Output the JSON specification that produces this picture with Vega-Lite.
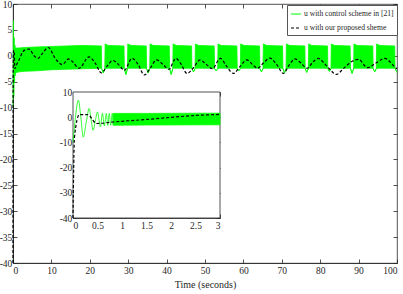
{
  "$schema": "https://vega.github.io/schema/vega-lite/v6.json",
  "width": 384,
  "height": 259,
  "autosize": {"type": "none"},
  "padding": {"left": 13, "top": 4, "right": 6, "bottom": 31},
  "config": {
    "view": {"stroke": "#262626", "strokeWidth": 0.8},
    "font": "Liberation Serif",
    "axis": {
      "labelFont": "Liberation Serif", "labelFontSize": 9.5, "labelColor": "#262626",
      "domainColor": "#262626", "tickColor": "#262626", "tickSize": -4, "grid": false,
      "titleFont": "Liberation Serif", "titleFontWeight": "normal", "titleFontSize": 10,
      "titleColor": "#262626", "domainWidth": 0.8, "tickWidth": 0.8
    },
    "axisX": {"labelPadding": 6},
    "axisY": {"labelPadding": 5.2}
  },
  "datasets": {
    "band": [
      {"t": 0.82, "hi": 1.5, "lo": -3.2}, {"t": 1.5, "hi": 1.5, "lo": -3.1}, {"t": 3, "hi": 1.6, "lo": -3.0},
      {"t": 6, "hi": 1.7, "lo": -2.9}, {"t": 10, "hi": 1.8, "lo": -2.7}, {"t": 14, "hi": 1.9, "lo": -2.6},
      {"t": 18, "hi": 2.0, "lo": -2.5},
      {"t": 23.0, "hi": 1.9, "lo": -2.4}, {"t": 23.1, "hi": -2.5, "lo": -2.5}, {"t": 23.5, "hi": -3.3, "lo": -3.3}, {"t": 23.9, "hi": -2.5, "lo": -2.5}, {"t": 24.0, "hi": 2.3, "lo": -2.4}, {"t": 24.8, "hi": 2.0, "lo": -2.4},
      {"t": 28.9, "hi": 1.9, "lo": -2.4}, {"t": 29.0, "hi": -2.5, "lo": -2.5}, {"t": 29.4, "hi": -3.6, "lo": -3.6}, {"t": 29.8, "hi": -2.5, "lo": -2.5}, {"t": 29.9, "hi": 2.3, "lo": -2.4}, {"t": 30.7, "hi": 2.0, "lo": -2.4},
      {"t": 34.7, "hi": 1.9, "lo": -2.4}, {"t": 34.8, "hi": -2.5, "lo": -2.5}, {"t": 35.2, "hi": -3.3, "lo": -3.3}, {"t": 35.6, "hi": -2.5, "lo": -2.5}, {"t": 35.7, "hi": 2.3, "lo": -2.4}, {"t": 36.5, "hi": 2.0, "lo": -2.4},
      {"t": 40.7, "hi": 1.9, "lo": -2.4}, {"t": 40.8, "hi": -2.5, "lo": -2.5}, {"t": 41.2, "hi": -3.6, "lo": -3.6}, {"t": 41.6, "hi": -2.5, "lo": -2.5}, {"t": 41.7, "hi": 2.3, "lo": -2.4}, {"t": 42.5, "hi": 2.0, "lo": -2.4},
      {"t": 46.5, "hi": 1.9, "lo": -2.4}, {"t": 46.6, "hi": -2.5, "lo": -2.5}, {"t": 47.0, "hi": -3.1, "lo": -3.1}, {"t": 47.4, "hi": -2.5, "lo": -2.5}, {"t": 47.5, "hi": 2.3, "lo": -2.4}, {"t": 48.3, "hi": 2.0, "lo": -2.4},
      {"t": 52.4, "hi": 1.9, "lo": -2.4}, {"t": 52.5, "hi": -2.5, "lo": -2.5}, {"t": 52.9, "hi": -2.9, "lo": -2.9}, {"t": 53.3, "hi": -2.5, "lo": -2.5}, {"t": 53.4, "hi": 2.3, "lo": -2.4}, {"t": 54.2, "hi": 2.0, "lo": -2.4},
      {"t": 58.3, "hi": 1.9, "lo": -2.4}, {"t": 58.4, "hi": -2.5, "lo": -2.5}, {"t": 58.8, "hi": -2.9, "lo": -2.9}, {"t": 59.2, "hi": -2.5, "lo": -2.5}, {"t": 59.3, "hi": 2.3, "lo": -2.4}, {"t": 60.1, "hi": 2.0, "lo": -2.4},
      {"t": 64.2, "hi": 1.9, "lo": -2.4}, {"t": 64.3, "hi": -2.5, "lo": -2.5}, {"t": 64.7, "hi": -3.1, "lo": -3.1}, {"t": 65.1, "hi": -2.5, "lo": -2.5}, {"t": 65.2, "hi": 2.3, "lo": -2.4}, {"t": 66.0, "hi": 2.0, "lo": -2.4},
      {"t": 70.2, "hi": 1.9, "lo": -2.4}, {"t": 70.3, "hi": -2.5, "lo": -2.5}, {"t": 70.7, "hi": -3.3, "lo": -3.3}, {"t": 71.1, "hi": -2.5, "lo": -2.5}, {"t": 71.2, "hi": 2.3, "lo": -2.4}, {"t": 72.0, "hi": 2.0, "lo": -2.4},
      {"t": 76.0, "hi": 1.9, "lo": -2.4}, {"t": 76.1, "hi": -2.5, "lo": -2.5}, {"t": 76.5, "hi": -3.2, "lo": -3.2}, {"t": 76.9, "hi": -2.5, "lo": -2.5}, {"t": 77.0, "hi": 2.3, "lo": -2.4}, {"t": 77.8, "hi": 2.0, "lo": -2.4},
      {"t": 81.9, "hi": 1.9, "lo": -2.4}, {"t": 82.0, "hi": -2.5, "lo": -2.5}, {"t": 82.4, "hi": -3.0, "lo": -3.0}, {"t": 82.8, "hi": -2.5, "lo": -2.5}, {"t": 82.9, "hi": 2.3, "lo": -2.4}, {"t": 83.7, "hi": 2.0, "lo": -2.4},
      {"t": 87.8, "hi": 1.9, "lo": -2.4}, {"t": 87.9, "hi": -2.5, "lo": -2.5}, {"t": 88.3, "hi": -3.4, "lo": -3.4}, {"t": 88.7, "hi": -2.5, "lo": -2.5}, {"t": 88.8, "hi": 2.3, "lo": -2.4}, {"t": 89.6, "hi": 2.0, "lo": -2.4},
      {"t": 93.7, "hi": 1.9, "lo": -2.4}, {"t": 93.8, "hi": -2.5, "lo": -2.5}, {"t": 94.2, "hi": -3.1, "lo": -3.1}, {"t": 94.6, "hi": -2.5, "lo": -2.5}, {"t": 94.7, "hi": 2.3, "lo": -2.4}, {"t": 95.5, "hi": 2.0, "lo": -2.4},
      {"t": 99.4, "hi": 1.9, "lo": -2.4}, {"t": 99.5, "hi": -2.5, "lo": -2.5}, {"t": 100, "hi": -3.2, "lo": -3.2}
    ],
    "u21": [
      {"t": 0, "u": -10}, {"t": 0.05, "u": 0}, {"t": 0.11, "u": 6.8}, {"t": 0.16, "u": 0}, {"t": 0.21, "u": -7.9},
      {"t": 0.27, "u": -2}, {"t": 0.33, "u": 3.5}, {"t": 0.37, "u": -1}, {"t": 0.41, "u": -5.2}, {"t": 0.46, "u": -1},
      {"t": 0.5, "u": 2.1}, {"t": 0.53, "u": -1}, {"t": 0.56, "u": -3.9}, {"t": 0.6, "u": 1.6}, {"t": 0.64, "u": -3.5},
      {"t": 0.68, "u": 1.5}, {"t": 0.71, "u": -3.3}, {"t": 0.74, "u": 1.5}, {"t": 0.77, "u": -3.2}, {"t": 0.8, "u": 1.5},
      {"t": 0.82, "u": -3.2}
    ],
    "ours": [
      {"t": 0, "u": -40}, {"t": 0.03, "u": -8}, {"t": 0.13, "u": 1.0}, {"t": 0.3, "u": 1.0}, {"t": 0.48, "u": -2.5},
      {"t": 0.82, "u": -1.9}, {"t": 1.5, "u": -0.9}, {"t": 2.6, "u": 0.8}, {"t": 3, "u": 1.1}, {"t": 4.2, "u": 1.3},
      {"t": 5.5, "u": 0.0}, {"t": 6.5, "u": -0.5}, {"t": 7.5, "u": 0.3}, {"t": 9.2, "u": 1.6}, {"t": 11.0, "u": -0.5},
      {"t": 12.8, "u": -1.7}, {"t": 14.5, "u": -0.6}, {"t": 15.6, "u": -1.2}, {"t": 17.2, "u": -2.4}, {"t": 19.8, "u": -0.2},
      {"t": 21.4, "u": -1.4}, {"t": 23.0, "u": -3.3}, {"t": 24.5, "u": -2.0}, {"t": 26.0, "u": -0.9}, {"t": 27.5, "u": -1.7},
      {"t": 29.0, "u": -2.8}, {"t": 31.0, "u": -0.5}, {"t": 32.6, "u": -1.7}, {"t": 34.2, "u": -3.7}, {"t": 35.8, "u": -2.3},
      {"t": 37.4, "u": -0.8}, {"t": 39.1, "u": -1.7}, {"t": 40.6, "u": -2.6}, {"t": 42.4, "u": -0.5}, {"t": 43.6, "u": -1.4},
      {"t": 45.3, "u": -3.4}, {"t": 47.0, "u": -2.3}, {"t": 48.7, "u": -0.8}, {"t": 50.4, "u": -1.7}, {"t": 51.9, "u": -2.5},
      {"t": 54.0, "u": -0.5}, {"t": 55.6, "u": -2.0}, {"t": 57.4, "u": -3.4}, {"t": 59.1, "u": -2.1}, {"t": 60.9, "u": -0.8},
      {"t": 62.4, "u": -1.7}, {"t": 63.7, "u": -2.4}, {"t": 65.2, "u": -1.4}, {"t": 66.9, "u": -0.45}, {"t": 68.7, "u": -1.7},
      {"t": 70.4, "u": -3.4}, {"t": 72.0, "u": -1.7}, {"t": 73.4, "u": -0.6}, {"t": 75.0, "u": -1.4}, {"t": 76.6, "u": -2.4},
      {"t": 78.0, "u": -1.3}, {"t": 79.5, "u": -0.5}, {"t": 81.0, "u": -1.4}, {"t": 82.5, "u": -2.6}, {"t": 84.2, "u": -3.6},
      {"t": 86.0, "u": -2.5}, {"t": 88.0, "u": -1.2}, {"t": 90.0, "u": -0.7}, {"t": 92.3, "u": -2.3}, {"t": 94.5, "u": -1.4},
      {"t": 96.8, "u": -0.5}, {"t": 99.8, "u": -2.4}, {"t": 100, "u": -2.5}
    ]
  },
  "layer": [
    {
      "layer": [
        {
          "data": {"name": "band"},
          "mark": {"type": "area", "color": "#00ff00", "stroke": "#00ff00", "strokeWidth": 0.8, "opacity": 1},
          "encoding": {
            "x": {"field": "t", "type": "quantitative", "scale": {"domain": [0, 100], "nice": false},
                  "axis": {"orient": "bottom", "values": [0, 10, 20, 30, 40, 50, 60, 70, 80, 90, 100], "title": "Time (seconds)", "labelExpr": "datum.value + ''", "titlePadding": 5}},
            "y": {"field": "hi", "type": "quantitative", "scale": {"domain": [-40, 10], "nice": false},
                  "axis": {"orient": "left", "values": [-40, -35, -30, -25, -20, -15, -10, -5, 0, 5, 10], "title": null, "labelExpr": "datum.value + ''"}},
            "y2": {"field": "lo"}
          }
        },
        {
          "data": {"name": "u21"},
          "mark": {"type": "line", "strokeWidth": 0.8, "interpolate": "monotone"},
          "encoding": {
            "x": {"field": "t", "type": "quantitative",
                  "axis": {"orient": "top", "values": [0, 10, 20, 30, 40, 50, 60, 70, 80, 90, 100], "labels": false, "title": null, "domain": false}},
            "y": {"field": "u", "type": "quantitative",
                  "axis": {"orient": "right", "values": [-40, -35, -30, -25, -20, -15, -10, -5, 0, 5, 10], "labels": false, "title": null, "domain": false}},
            "color": {"datum": "u with control scheme in [21]",
                      "scale": {"domain": ["u with control scheme in [21]", "u with our proposed sheme"], "range": ["#00ff00", "#000000"]},
                      "legend": {"title": null, "orient": "none", "legendX": 274, "legendY": 1, "fillColor": "white", "strokeColor": "#555555", "padding": 3, "labelFont": "Liberation Serif", "labelFontSize": 7.6, "labelColor": "#262626", "symbolSize": 100, "symbolStrokeWidth": 1.2, "rowPadding": 4, "labelOffset": 2}},
            "strokeDash": {"datum": "u with control scheme in [21]",
                      "scale": {"domain": ["u with control scheme in [21]", "u with our proposed sheme"], "range": [[1, 0], [3, 2]]},
                      "legend": {"title": null}}
          }
        },
        {
          "data": {"name": "ours"},
          "mark": {"type": "line", "strokeWidth": 1.2, "interpolate": "monotone"},
          "encoding": {
            "x": {"field": "t", "type": "quantitative", "axis": null},
            "y": {"field": "u", "type": "quantitative", "axis": null},
            "color": {"datum": "u with our proposed sheme"},
            "strokeDash": {"datum": "u with our proposed sheme"}
          }
        }
      ],
      "resolve": {"axis": {"x": "independent", "y": "independent"}}
    },
    {
      "layer": [
        {
          "data": {"values": [{}]},
          "mark": {"type": "rect", "fill": "white", "stroke": "#262626", "strokeWidth": 0.8},
          "encoding": {
            "x": {"datum": 0, "type": "quantitative", "scale": {"domain": [0, 3], "range": [60, 207], "nice": false},
                  "axis": {"orient": "bottom", "offset": -45, "values": [0, 0.5, 1, 1.5, 2, 2.5, 3], "title": null, "labelExpr": "datum.value + ''"}},
            "x2": {"datum": 3},
            "y": {"datum": -40, "type": "quantitative", "scale": {"domain": [-40, 10], "range": [214, 88], "nice": false},
                  "axis": {"orient": "left", "offset": -60, "values": [-40, -30, -20, -10, 0, 10], "title": null, "labelExpr": "datum.value + ''"}},
            "y2": {"datum": 10}
          }
        },
        {
          "data": {"name": "band"},
          "transform": [{"filter": "datum.t <= 3"}],
          "mark": {"type": "area", "color": "#00ff00", "stroke": "#00ff00", "strokeWidth": 0.8, "opacity": 1},
          "encoding": {
            "x": {"field": "t", "type": "quantitative",
                  "axis": {"orient": "top", "offset": -88, "values": [0, 0.5, 1, 1.5, 2, 2.5, 3], "labels": false, "title": null, "domain": false}},
            "y": {"field": "hi", "type": "quantitative",
                  "axis": {"orient": "right", "offset": -177, "values": [-40, -30, -20, -10, 0, 10], "labels": false, "title": null, "domain": false}},
            "y2": {"field": "lo"}
          }
        },
        {
          "data": {"name": "u21"},
          "mark": {"type": "line", "strokeWidth": 0.8, "color": "#00ff00", "interpolate": "monotone"},
          "encoding": {
            "x": {"field": "t", "type": "quantitative", "axis": null},
            "y": {"field": "u", "type": "quantitative", "axis": null}
          }
        },
        {
          "data": {"name": "ours"},
          "transform": [{"filter": "datum.t <= 3"}],
          "mark": {"type": "line", "strokeWidth": 1.2, "color": "#000000", "strokeDash": [3, 2], "interpolate": "monotone"},
          "encoding": {
            "x": {"field": "t", "type": "quantitative", "axis": null},
            "y": {"field": "u", "type": "quantitative", "axis": null}
          }
        }
      ],
      "resolve": {"axis": {"x": "independent", "y": "independent"}}
    }
  ],
  "resolve": {"scale": {"x": "independent", "y": "independent"}, "axis": {"x": "independent", "y": "independent"}}
}
